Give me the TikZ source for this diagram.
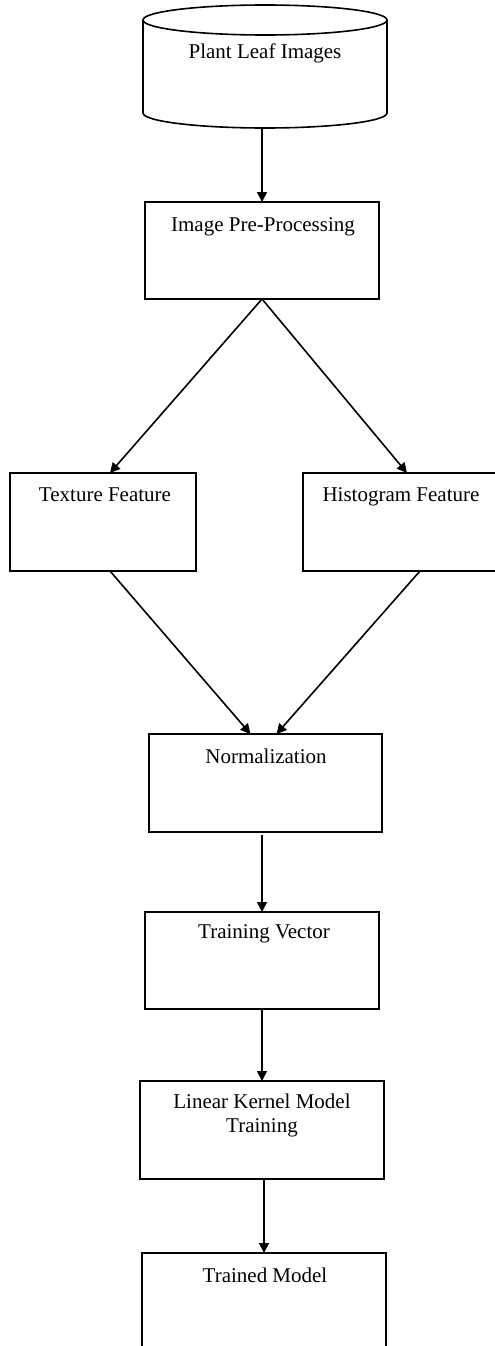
\documentclass[tikz,border=0pt]{standalone}
\usepackage{fontspec}
\setmainfont{Liberation Serif}
\usetikzlibrary{arrows.meta,calc}
\begin{document}
\begin{tikzpicture}[x=1pt,y=-1pt,
  lw/.style={line width=1.6pt},
  box/.style={draw, lw, rectangle, inner sep=0pt, outer sep=0pt, anchor=north west},
  lbl/.style={anchor=base, inner sep=0pt, font=\fontsize{21}{24}\selectfont, align=center},
  conn/.style={lw, -{Triangle[length=10pt,width=10pt]}}]
\useasboundingbox (0,0) rectangle (495,1346);
\clip (0,0) rectangle (495,1346);
% cylinder
\node[inner sep=0pt, outer sep=0pt, minimum width=244pt, minimum height=123pt, anchor=north west] (cyl) at (143,5) {};
\draw[lw] (265,20) ellipse[x radius=122pt, y radius=15pt];
\draw[lw] (143,20) -- (143,113) arc[start angle=180, end angle=360, x radius=122pt, y radius=15pt] -- (387,20);
\node[lbl] (cylT) at (265,59) {Plant Leaf Images};
% boxes
\node[box, minimum width=234pt, minimum height=97pt] (pre) at (145,202) {};
\node[lbl] (preT) at (263,231) {Image Pre-Processing};
\node[box, minimum width=186pt, minimum height=98pt] (tex) at (10,473) {};
\node[lbl] (texT) at (105,501) {Texture Feature};
\node[box, minimum width=200pt, minimum height=98pt] (hist) at (303,473) {};
\node[lbl] (histT) at (401,501) {Histogram Feature};
\node[box, minimum width=233pt, minimum height=98pt] (norm) at (149,734) {};
\node[lbl] (normT) at (266,763) {Normalization};
\node[box, minimum width=234pt, minimum height=97pt] (tv) at (145,912) {};
\node[lbl] (tvT) at (264,938) {Training Vector};
\node[box, minimum width=244pt, minimum height=98pt] (lk) at (140,1081) {};
\node[lbl] (lkT) at (262,1132) {Linear Kernel Model\\Training};
\node[box, minimum width=244pt, minimum height=150pt] (tm) at (142,1253) {};
\node[lbl] (tmT) at (265,1282) {Trained Model};
% connectors
\draw[conn] (cyl.south -| pre.north) -- (pre.north);
\draw[conn] (pre.south) -- ($(tex.north)+(7,0)$);
\draw[conn] (pre.south) -- ($(hist.north)+(4,0)$);
\draw[conn] ($(tex.south)+(7,0)$) -- ($(norm.north)+(-15,0)$);
\draw[conn] ($(hist.south)+(17,0)$) -- ($(norm.north)+(11,0)$);
\draw[conn] ($(norm.south -| tv.north)+(0,3)$) -- (tv.north);
\draw[conn] (tv.south -| lk.north) -- (lk.north);
\draw[conn] (lk.south -| tm.north) -- (tm.north);
\end{tikzpicture}
\end{document}
